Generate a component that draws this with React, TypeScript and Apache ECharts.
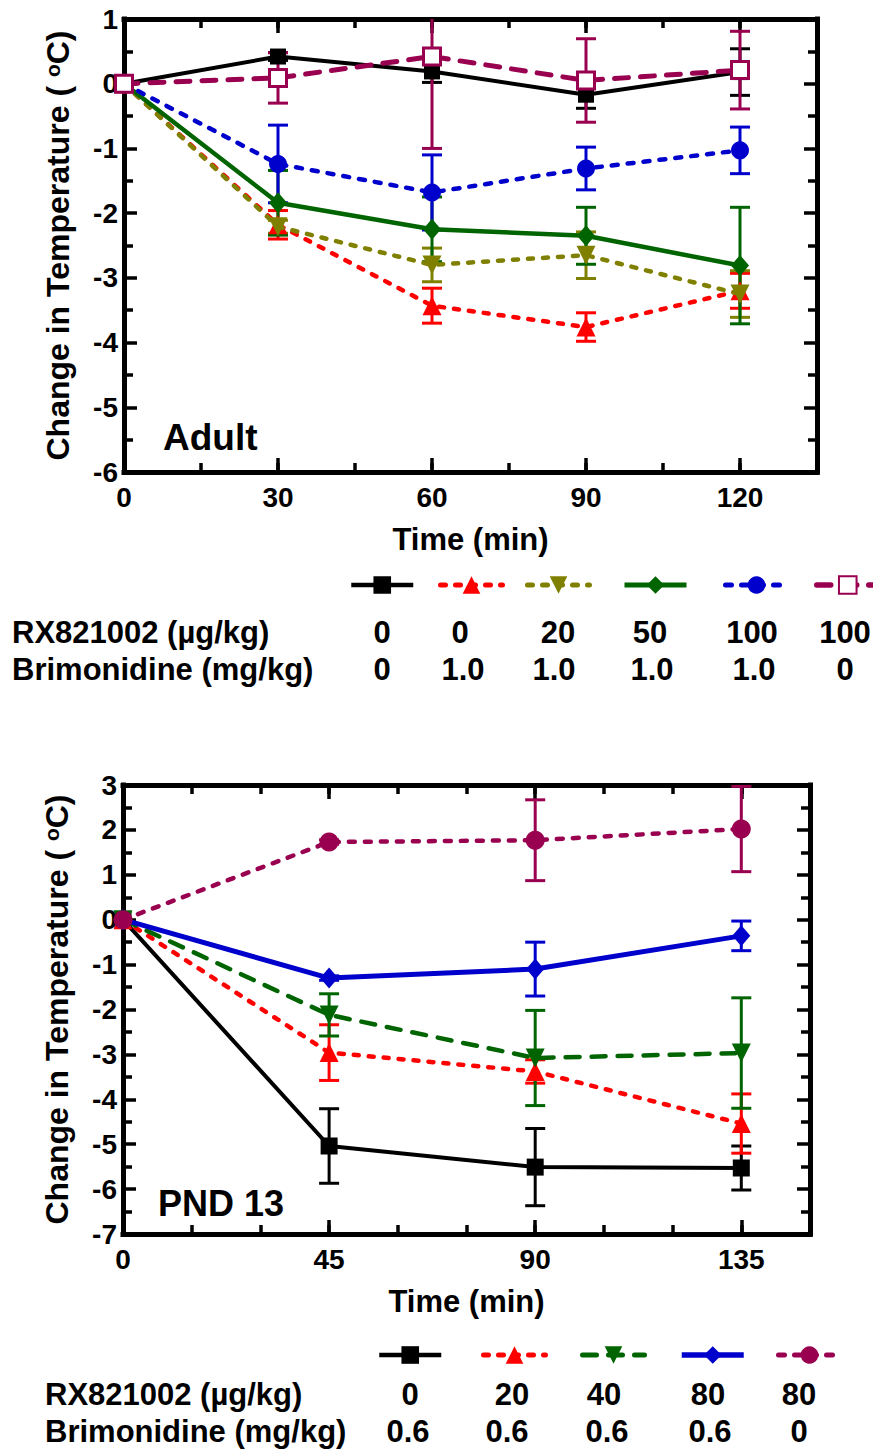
import React, { useEffect, useRef } from "react";
import * as echarts from "echarts";

const FONT = "'Liberation Sans', Arial, Helvetica, sans-serif";

// ---------------- Adult panel data ----------------
const adultTimes = [0, 30, 60, 90, 120];
const adultRx0Brim0 = [0, 0.42, 0.19, -0.17, 0.18];
const adultRx0Brim0Sem = [0, 0.06, 0.17, 0.21, 0.36];
const adultRx0Brim1 = [0, -2.18, -3.43, -3.76, -3.2];
const adultRx0Brim1Sem = [0, 0.22, 0.27, 0.22, 0.27];
const adultRx20Brim1 = [0, -2.21, -2.8, -2.65, -3.25];
const adultRx20Brim1Sem = [0, 0.1, 0.26, 0.36, 0.36];
const adultRx50Brim1 = [0, -1.84, -2.25, -2.35, -2.81];
const adultRx50Brim1Sem = [0, 0.5, 0.5, 0.44, 0.9];
const adultRx100Brim1 = [0, -1.24, -1.68, -1.31, -1.03];
const adultRx100Brim1Sem = [0, 0.6, 0.58, 0.33, 0.36];
const adultRx100Brim0 = [0, 0.09, 0.42, 0.05, 0.21];
const adultRx100Brim0Sem = [0, 0.39, 1.42, 0.645, 0.6];

const adultRxDoses = ["0", "0", "20", "50", "100", "100"];
const adultBrimDoses = ["0", "1.0", "1.0", "1.0", "1.0", "0"];

// ---------------- PND 13 panel data ----------------
const pndTimes = [0, 45, 90, 135];
const pndRx0Brim06 = [0, -5.04, -5.51, -5.53];
const pndRx0Brim06Sem = [0, 0.83, 0.86, 0.49];
const pndRx20Brim06 = [0, -2.96, -3.38, -4.54];
const pndRx20Brim06Sem = [0, 0.62, 0.26, 0.66];
const pndRx40Brim06 = [0, -2.12, -3.08, -2.97];
const pndRx40Brim06Sem = [0, 0.47, 1.06, 1.23];
const pndRx80Brim06 = [0, -1.3, -1.1, -0.36];
const pndRx80Brim06Sem = [0, 0.05, 0.6, 0.33];
const pndRx80Brim0 = [0, 1.73, 1.77, 2.02];
const pndRx80Brim0Sem = [0, 0.05, 0.9, 0.95];

const pndRxDoses = ["0", "20", "40", "80", "80"];
const pndBrimDoses = ["0.6", "0.6", "0.6", "0.6", "0"];

const rowLabelRx = "RX821002 (\u00b5g/kg)";
const rowLabelBrim = "Brimonidine (mg/kg)";

// ---------------- layout (not data) ----------------
const ADULT_GRID = { left: 124, top: 19, width: 693, height: 453 };
const PND_GRID = { left: 123, top: 785, width: 687, height: 449 };
const adultLegendX = [380, 469, 556, 653, 754, 845];
const adultLegendY = 585;
const adultRxX = [382, 460, 558, 650, 752, 845];
const adultBrimX = [382, 463, 554, 652, 754, 845];
const adultRowY = [632, 669];
const adultRowLabelX = 12;
const pndLegendX = [408, 512, 611, 710, 807];
const pndLegendY = 1355;
const pndRxX = [410, 512, 604, 708, 799];
const pndBrimX = [408, 507, 607, 710, 799];
const pndRowY = [1394, 1431];
const pndRowLabelX = 45;

const DOWN_TRI = "path://M0,0L10,0L5,9Z";

type Def = {
  name: string;
  values: number[];
  sem: number[];
  color: string;
  symbol: string;
  size: number | number[];
  dash: any;
  width: number;
  fill?: string;
};

const adultDefs: Def[] = [
  { name: "A0", values: adultRx0Brim0, sem: adultRx0Brim0Sem, color: "#000000", symbol: "rect", size: 16, dash: "solid", width: 4 },
  { name: "A1", values: adultRx0Brim1, sem: adultRx0Brim1Sem, color: "#ff0000", symbol: "triangle", size: 19, dash: [5, 10], width: 4.5 },
  { name: "A2", values: adultRx20Brim1, sem: adultRx20Brim1Sem, color: "#808000", symbol: DOWN_TRI, size: 19, dash: [5, 10], width: 4.5 },
  { name: "A3", values: adultRx50Brim1, sem: adultRx50Brim1Sem, color: "#006400", symbol: "diamond", size: [18, 21], dash: "solid", width: 4.5 },
  { name: "A4", values: adultRx100Brim1, sem: adultRx100Brim1Sem, color: "#0000cc", symbol: "circle", size: 18, dash: [6, 10], width: 4.5 },
  { name: "A5", values: adultRx100Brim0, sem: adultRx100Brim0Sem, color: "#990050", symbol: "rect", size: 17, dash: [14, 12], width: 5, fill: "#ffffff" },
];

const pndDefs: Def[] = [
  { name: "P0", values: pndRx0Brim06, sem: pndRx0Brim06Sem, color: "#000000", symbol: "rect", size: 17, dash: "solid", width: 4 },
  { name: "P1", values: pndRx20Brim06, sem: pndRx20Brim06Sem, color: "#ff0000", symbol: "triangle", size: 19, dash: [5, 10], width: 4.5 },
  { name: "P2", values: pndRx40Brim06, sem: pndRx40Brim06Sem, color: "#006400", symbol: DOWN_TRI, size: 19, dash: [14, 12], width: 4.5 },
  { name: "P3", values: pndRx80Brim06, sem: pndRx80Brim06Sem, color: "#0000cc", symbol: "diamond", size: [18, 21], dash: "solid", width: 5 },
  { name: "P4", values: pndRx80Brim0, sem: pndRx80Brim0Sem, color: "#990050", symbol: "circle", size: 19, dash: [6, 10], width: 4.5 },
];

const CAP = 10;

function xAxes(g: number, max: number, major: number, labelMax: number) {
  const base: any = {
    gridIndex: g,
    type: "value",
    min: 0,
    max,
    splitLine: { show: false },
    axisLabel: { show: false },
    axisTick: { show: false },
    axisLine: { show: false, onZero: false },
  };
  const tickStyle = { color: "#000", width: 3.5 };
  const lineStyle = { color: "#000", width: 5, cap: "square" };
  return [
    {
      ...base,
      position: "bottom",
      interval: major,
      axisLine: { show: true, onZero: false, lineStyle },
      axisTick: { show: true, inside: true, length: 14, lineStyle: tickStyle },
      axisLabel: {
        show: true,
        margin: 11,
        fontSize: 28,
        fontWeight: "bold",
        fontFamily: FONT,
        color: "#000",
        formatter: (v: number) => (v <= labelMax && v % major === 0 ? String(v) : ""),
      },
      name: "Time (min)",
      nameLocation: "middle",
      nameGap: 52,
      nameTextStyle: { fontSize: 31, fontWeight: "bold", fontFamily: FONT, color: "#000" },
    },
    {
      ...base,
      position: "bottom",
      interval: 15,
      axisTick: { show: true, inside: true, length: 9, lineStyle: tickStyle },
    },
    {
      ...base,
      position: "top",
      interval: major,
      axisLine: { show: true, onZero: false, lineStyle },
      axisTick: { show: true, inside: true, length: 14, lineStyle: tickStyle },
    },
    {
      ...base,
      position: "top",
      interval: 15,
      axisTick: { show: true, inside: true, length: 9, lineStyle: tickStyle },
    },
  ];
}

function yAxes(g: number, min: number, max: number) {
  const common: any = {
    gridIndex: g,
    type: "value",
    min,
    max,
    interval: 1,
    splitLine: { show: false },
    axisTick: { show: true, inside: true, length: 13, lineStyle: { color: "#000", width: 3.5 } },
    minorTick: { show: true, splitNumber: 2, length: 9, lineStyle: { color: "#000", width: 3.5 } },
    axisLine: { show: true, onZero: false, lineStyle: { color: "#000", width: 5, cap: "square" } },
  };
  return [
    {
      ...common,
      position: "left",
      axisLabel: { show: true, margin: 6, fontSize: 28, fontWeight: "bold", fontFamily: FONT, color: "#000" },
      name: "Change in Temperature ( {sup|o}C)",
      nameLocation: "middle",
      nameGap: 50,
      nameRotate: 90,
      nameTextStyle: {
        fontSize: 32,
        fontWeight: "bold",
        fontFamily: FONT,
        color: "#000",
        rich: {
          sup: { fontSize: 21, fontWeight: "bold", fontFamily: FONT, color: "#000", verticalAlign: "top", padding: [0, 0, 10, 0] },
        },
      },
    },
    { ...common, position: "right", axisLabel: { show: false } },
  ];
}

function buildSeries(g: number, times: number[], defs: Def[]) {
  const out: any[] = [];
  defs.forEach((d, k) => {
    out.push({
      type: "custom",
      name: d.name + "-err",
      xAxisIndex: g * 4,
      yAxisIndex: g * 2,
      clip: true,
      z: 2 + k * 0.01,
      encode: { x: 0, y: 1 },
      data: times.map((t, i) => [t, d.values[i], d.sem[i]]),
      renderItem: (_params: any, api: any) => {
        const x = api.value(0);
        const y = api.value(1);
        const e = api.value(2);
        if (!e) return null;
        const p1 = api.coord([x, y + e]);
        const p2 = api.coord([x, y - e]);
        const style = { stroke: d.color, lineWidth: 3 };
        return {
          type: "group",
          children: [
            { type: "line", shape: { x1: p1[0], y1: p1[1], x2: p2[0], y2: p2[1] }, style },
            { type: "line", shape: { x1: p1[0] - CAP, y1: p1[1], x2: p1[0] + CAP, y2: p1[1] }, style },
            { type: "line", shape: { x1: p2[0] - CAP, y1: p2[1], x2: p2[0] + CAP, y2: p2[1] }, style },
          ],
        };
      },
    });
    const lineStyle = { color: d.color, width: d.width, type: d.dash, cap: d.dash === "solid" ? "butt" : "round", join: "round" };
    out.push({
      type: "line",
      name: d.name,
      xAxisIndex: g * 4,
      yAxisIndex: g * 2,
      z: 3 + k * 0.01,
      data: times.map((t, i) => [t, d.values[i]]),
      symbol: d.symbol,
      symbolSize: d.size,
      showAllSymbol: true,
      lineStyle,
      itemStyle: d.fill
        ? { color: d.fill, borderColor: d.color, borderWidth: 3 }
        : { color: d.color, borderWidth: 0 },
      emphasis: { disabled: true },
    });
  });
  return out;
}

function buildLegends(defs: Def[], xs: number[], y: number) {
  return defs.map((d, i) => ({
    data: [d.name],
    left: xs[i] - 31,
    top: y - 11,
    itemWidth: 62,
    itemHeight: 22,
    itemGap: 0,
    padding: 0,
    selectedMode: false,
    formatter: () => "",
    textStyle: { fontSize: 1 },
    lineStyle: { width: d.width + 0.5 },
  }));
}

function tableTexts(rowLabelX: number, rowY: number[], rx: string[], rxX: number[], brim: string[], brimX: number[]) {
  const st = { fontSize: 31, fontWeight: "bold", fontFamily: FONT, fill: "#000" };
  const els: any[] = [
    { type: "text", x: rowLabelX, y: rowY[0], style: { ...st, text: rowLabelRx, align: "left", verticalAlign: "middle" } },
    { type: "text", x: rowLabelX, y: rowY[1], style: { ...st, text: rowLabelBrim, align: "left", verticalAlign: "middle" } },
  ];
  rx.forEach((v, i) => els.push({ type: "text", x: rxX[i], y: rowY[0], style: { ...st, text: v, align: "center", verticalAlign: "middle" } }));
  brim.forEach((v, i) => els.push({ type: "text", x: brimX[i], y: rowY[1], style: { ...st, text: v, align: "center", verticalAlign: "middle" } }));
  return els;
}

export default function App() {
  const ref = useRef<HTMLDivElement>(null);
  useEffect(() => {
    document.body.style.margin = "0";
    if (!ref.current) return;
    const chart = echarts.init(ref.current, undefined, { renderer: "svg" });
    const option: any = {
      animation: false,
      backgroundColor: "#ffffff",
      grid: [
        { ...ADULT_GRID, containLabel: false },
        { ...PND_GRID, containLabel: false },
      ],
      xAxis: [...xAxes(0, 135, 30, 120), ...xAxes(1, 150, 45, 135)],
      yAxis: [...yAxes(0, -6, 1), ...yAxes(1, -7, 3)],
      legend: [...buildLegends(adultDefs, adultLegendX, adultLegendY), ...buildLegends(pndDefs, pndLegendX, pndLegendY)],
      series: [...buildSeries(0, adultTimes, adultDefs), ...buildSeries(1, pndTimes, pndDefs)],
      graphic: [
        { type: "text", x: 163, y: 437, style: { text: "Adult", fontSize: 37, fontWeight: "bold", fontFamily: FONT, fill: "#000", align: "left", verticalAlign: "middle" } },
        { type: "text", x: 158, y: 1203, style: { text: "PND 13", fontSize: 36, fontWeight: "bold", fontFamily: FONT, fill: "#000", align: "left", verticalAlign: "middle" } },
        ...tableTexts(adultRowLabelX, adultRowY, adultRxDoses, adultRxX, adultBrimDoses, adultBrimX),
        ...tableTexts(pndRowLabelX, pndRowY, pndRxDoses, pndRxX, pndBrimDoses, pndBrimX),
      ],
    };
    chart.setOption(option);
    return () => chart.dispose();
  }, []);
  return <div ref={ref} style={{ width: 873, height: 1450 }} />;
}
